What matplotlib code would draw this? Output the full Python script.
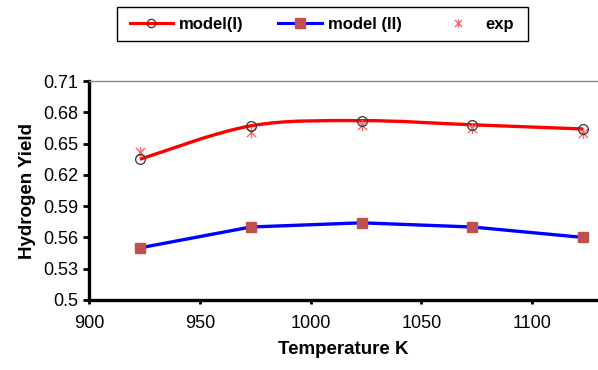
import numpy as np
import matplotlib
matplotlib.use('Agg')
import matplotlib.pyplot as plt
from matplotlib.path import Path
from matplotlib.patches import PathPatch, Rectangle
from matplotlib.lines import Line2D

plt.rcParams['font.family'] = ['Liberation Sans', 'DejaVu Sans']

# data
temperature = [923, 973, 1023, 1073, 1123]
model_1 = [0.635, 0.667, 0.672, 0.668, 0.664]
model_2 = [0.550, 0.570, 0.574, 0.570, 0.560]
exp_yield = [0.642, 0.661, 0.668, 0.665, 0.660]

x_ticks = [900, 950, 1000, 1050, 1100]
y_ticks = [0.5, 0.53, 0.56, 0.59, 0.62, 0.65, 0.68, 0.71]
y_ticklabels = ['0.5', '0.53', '0.56', '0.59', '0.62', '0.65', '0.68', '0.71']


def smooth_path(xs, ys):
    """Excel-like smoothed line: cubic Bezier segments (Catmull-Rom, 1/6)."""
    pts = np.column_stack([xs, ys]).astype(float)
    ext = np.vstack([pts[0], pts, pts[-1]])
    verts = [pts[0]]
    codes = [Path.MOVETO]
    for i in range(len(pts) - 1):
        p0, p1, p2, p3 = ext[i], ext[i + 1], ext[i + 2], ext[i + 3]
        c1 = p1 + (p2 - p0) / 6.0
        c2 = p2 - (p3 - p1) / 6.0
        verts += [c1, c2, p2]
        codes += [Path.CURVE4] * 3
    return Path(verts, codes)


# Excel style star: an X with a vertical bar through it
star = Path([(-1, -1), (1, 1), (-1, 1), (1, -1), (0, -1.2), (0, 1.2)],
            [Path.MOVETO, Path.LINETO] * 3)

fig = plt.figure(figsize=(5.98, 3.70), dpi=100)
ax = fig.add_axes([89 / 598, 1 - 300 / 370, 1 - 89 / 598, (300 - 81) / 370])

red_curve = PathPatch(smooth_path(temperature, model_1), facecolor='none',
                      edgecolor='#FF0000', lw=2.4, transform=ax.transData,
                      zorder=2)
ax.add_patch(red_curve)
ax.plot(temperature, model_1, linestyle='none', marker='o', ms=7,
        mfc='none', mec='#333333', mew=0.9, zorder=4)
ax.plot(temperature, model_2, color='#0000FF', lw=2.4, marker='s', ms=7,
        mfc='#C0504D', mec='#C0504D', zorder=3)
ax.plot(temperature, exp_yield, linestyle='none', marker=star, ms=8,
        mec='#FF6666', mew=1.0, zorder=3)

ax.set_xlim(900, 900 + (598 - 89) / 110.8 * 50)
ax.set_ylim(0.5, 0.71)
ax.set_xticks(x_ticks)
ax.set_yticks(y_ticks)
ax.set_yticklabels(y_ticklabels)

ax.spines['right'].set_visible(False)
ax.spines['top'].set_color('#888888')
ax.spines['top'].set_linewidth(1.0)
ax.spines['left'].set_linewidth(2.4)
ax.spines['bottom'].set_linewidth(2.4)
ax.tick_params(axis='y', direction='out', length=4, width=2, labelsize=13,
               pad=4)
ax.tick_params(axis='x', direction='out', length=3, width=2, labelsize=13,
               pad=8)

ax.set_xlabel('Temperature K', fontsize=13.5, fontweight='bold', labelpad=6)
ax.set_ylabel('Hydrogen Yield', fontsize=13.5, fontweight='bold', labelpad=5)

# legend box above the plot
fig.patches.append(Rectangle((117 / 598, 1 - 41 / 370), (528 - 117) / 598,
                             34 / 370, transform=fig.transFigure,
                             facecolor='white', edgecolor='black', lw=1.0))
handles = [
    Line2D([], [], color='#FF0000', lw=2.2, marker='o', ms=6, mfc='none',
           mec='#333333', mew=0.9),
    Line2D([], [], color='#0000FF', lw=2.2, marker='s', ms=7, mfc='#C0504D',
           mec='#C0504D'),
    Line2D([], [], linestyle='none', marker=star, ms=6, mec='#FF6666',
           mew=1.0),
]
fig.legend(handles, ['model(I)', 'model (II)', 'exp'], ncol=3,
           loc='center', bbox_to_anchor=(322 / 598, 1 - 24.5 / 370),
           frameon=False, prop={'weight': 'bold', 'size': 12},
           handlelength=2.6, handletextpad=0.35, columnspacing=2.1,
           markerfirst=True)

fig.savefig('out.png', dpi=100)
